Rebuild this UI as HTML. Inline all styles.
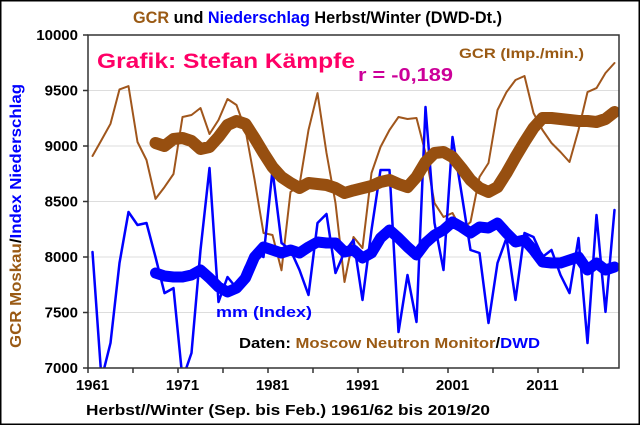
<!DOCTYPE html>
<html><head><meta charset="utf-8"><style>
body{margin:0;width:640px;height:425px;overflow:hidden;background:#fff;font-family:"Liberation Sans",Arial,sans-serif}
svg text{font-family:"Liberation Sans",Arial,sans-serif;font-weight:bold}
</style></head><body>
<svg id="chart" width="640" height="425" xmlns="http://www.w3.org/2000/svg">
<rect x="0.75" y="0.75" width="638.5" height="423.5" fill="#fff" stroke="#000" stroke-width="1.5"/>
<text x="133" y="23" textLength="369" lengthAdjust="spacingAndGlyphs" font-size="17"><tspan fill="#9a5a14">GCR</tspan><tspan fill="#000"> und </tspan><tspan fill="#0000ff">Niederschlag</tspan><tspan fill="#000"> Herbst/Winter (DWD-Dt.)</tspan></text>
<text transform="translate(21,348) rotate(-90)" textLength="264" lengthAdjust="spacingAndGlyphs" font-size="16"><tspan fill="#9a5a14">GCR Moskau</tspan><tspan fill="#000">/</tspan><tspan fill="#0000ff">Index Niederschlag</tspan></text>
<text x="86" y="415" textLength="404" lengthAdjust="spacingAndGlyphs" font-size="15" fill="#000">Herbst//Winter (Sep. bis Feb.) 1961/62 bis 2019/20</text>
<g id="grid"></g>
<g id="series"></g>
<rect x="88" y="35" width="531" height="333" fill="none" stroke="#333" stroke-width="1.5"/>
<g id="axes"></g>
<text x="97" y="68" textLength="258" lengthAdjust="spacingAndGlyphs" font-size="21" fill="#ff0066">Grafik: Stefan Kämpfe</text>
<text x="358" y="81" textLength="95" lengthAdjust="spacingAndGlyphs" font-size="18" fill="#cc0099">r = -0,189</text>
<text x="459" y="58" textLength="125" lengthAdjust="spacingAndGlyphs" font-size="14" fill="#9a5a14">GCR (Imp./min.)</text>
<text x="216" y="317" textLength="96" lengthAdjust="spacingAndGlyphs" font-size="15" fill="#0000ff">mm (Index)</text>
<text x="239" y="348" textLength="301" lengthAdjust="spacingAndGlyphs" font-size="15"><tspan fill="#000">Daten: </tspan><tspan fill="#9a5a14">Moscow Neutron Monitor</tspan><tspan fill="#000">/</tspan><tspan fill="#0000ff">DWD</tspan></text>
</svg>
<script>
const startYear = 1961;
const gcrValues = [8910,9054,9200,9510,9540,9036,8874,8523,8630,8748,9261,9279,9342,9108,9234,9423,9369,9144,8700,8216,8198,7880,8586,8650,9144,9477,8937,8486,7775,8180,8081,8757,8991,9144,9261,9243,9252,8937,8486,8360,8396,8243,8315,8721,8847,9324,9486,9595,9631,9297,9144,9027,8946,8856,9144,9486,9522,9658,9748];
const gcrSmooth = [null,null,null,null,null,null,null,9027,9000,9063,9072,9045,8973,8991,9081,9189,9225,9198,9072,8937,8811,8721,8667,8622,8667,8658,8649,8622,8577,8600,8620,8640,8676,8694,8658,8630,8721,8856,8937,8946,8901,8802,8694,8622,8586,8630,8757,8901,9036,9162,9252,9252,9243,9234,9225,9225,9216,9243,9306];
const precipValues = [8045,6900,7225,7946,8405,8288,8306,8000,7675,7720,6900,7135,8063,8802,7595,7820,7720,7910,8045,8000,8784,8126,8063,7883,7658,8306,8387,7856,8045,8153,7613,8243,8784,8784,7324,7838,7414,9351,8306,7883,9081,8577,8063,8036,7405,7946,8171,7613,8216,8180,8000,8063,7838,7675,8171,7225,8378,7505,8423];
const precipSmooth = [null,null,null,null,null,null,null,7856,7829,7820,7820,7838,7883,7811,7730,7685,7720,7811,8000,8090,8063,8036,8063,8036,8090,8135,8126,8126,8045,8063,7991,8036,8171,8243,8171,8090,8018,8126,8198,8243,8315,8270,8216,8270,8261,8306,8216,8135,8153,8063,7955,7946,7946,7973,8000,7883,7946,7883,7910];
const yTicks = [7000,7500,8000,8500,9000,9500,10000];
const xTickLabels = ["1961","1971","1981","1991","2001","2011"];

const NS="http://www.w3.org/2000/svg";
const X0=88,X1=619,Y0=368,Y1=35,VMIN=7000,VMAX=10000,N=gcrValues.length;
const step=(X1-X0)/N;
function xPos(i){return X0+step*(i+0.5);}
function yPos(v){return Y0-(v-VMIN)/(VMAX-VMIN)*(Y0-Y1);}
function mk(tag,attrs,parent){const e=document.createElementNS(NS,tag);for(const k in attrs)e.setAttribute(k,attrs[k]);parent.appendChild(e);return e;}
const grid=document.getElementById('grid'),axes=document.getElementById('axes'),series=document.getElementById('series');
const svg=document.getElementById('chart');
const clip=mk('clipPath',{id:'pc'},svg);mk('rect',{x:X0,y:Y1,width:X1-X0,height:Y0-Y1},clip);
series.setAttribute('clip-path','url(#pc)');
yTicks.forEach(v=>{
  const y=yPos(v);
  if(v>VMIN&&v<VMAX){const g=mk('line',{x1:X0,x2:X1,y1:y,y2:y,stroke:'#ddd','stroke-width':1},grid);
  
  }
  const tk=mk('line',{x1:X0-5,x2:X0,y1:y,y2:y,stroke:'#333','stroke-width':1.5},axes);
  
  
  const t=mk('text',{x:X0-10,y:y+5,'text-anchor':'end','font-size':15,fill:'#000'},axes);t.textContent=v;
  
  
});
for(let i=0;i<=N;i+=5){
  const x=X0+step*i;
  const tk=mk('line',{x1:x,x2:x,y1:Y0,y2:Y0+5,stroke:'#333','stroke-width':1.5},axes);
  
  
}
xTickLabels.forEach(l=>{
  const i=parseInt(l)-startYear;
  const t=mk('text',{x:xPos(i),y:390,'text-anchor':'middle','font-size':15,fill:'#000'},axes);t.textContent=l;
  
  
});
function pathOf(arr){let d='';arr.forEach((v,i)=>{if(v==null)return;d+=(d?'L':'M')+xPos(i).toFixed(1)+','+yPos(v).toFixed(1);});return d;}
function line(arr,color,w,name){
  const p=mk('path',{d:pathOf(arr),fill:'none',stroke:color,'stroke-width':w,'stroke-linejoin':'round','stroke-linecap':'round'},series);
  
  
}
line(gcrValues,'#a0561c',2,'gcr-line');
line(precipValues,'#0000ff',2.5,'precip-line');
line(gcrSmooth,'#974f10',12,'gcr-smooth-line');
line(precipSmooth,'#0000ff',11,'precip-smooth-line');
</script>
</body></html>
